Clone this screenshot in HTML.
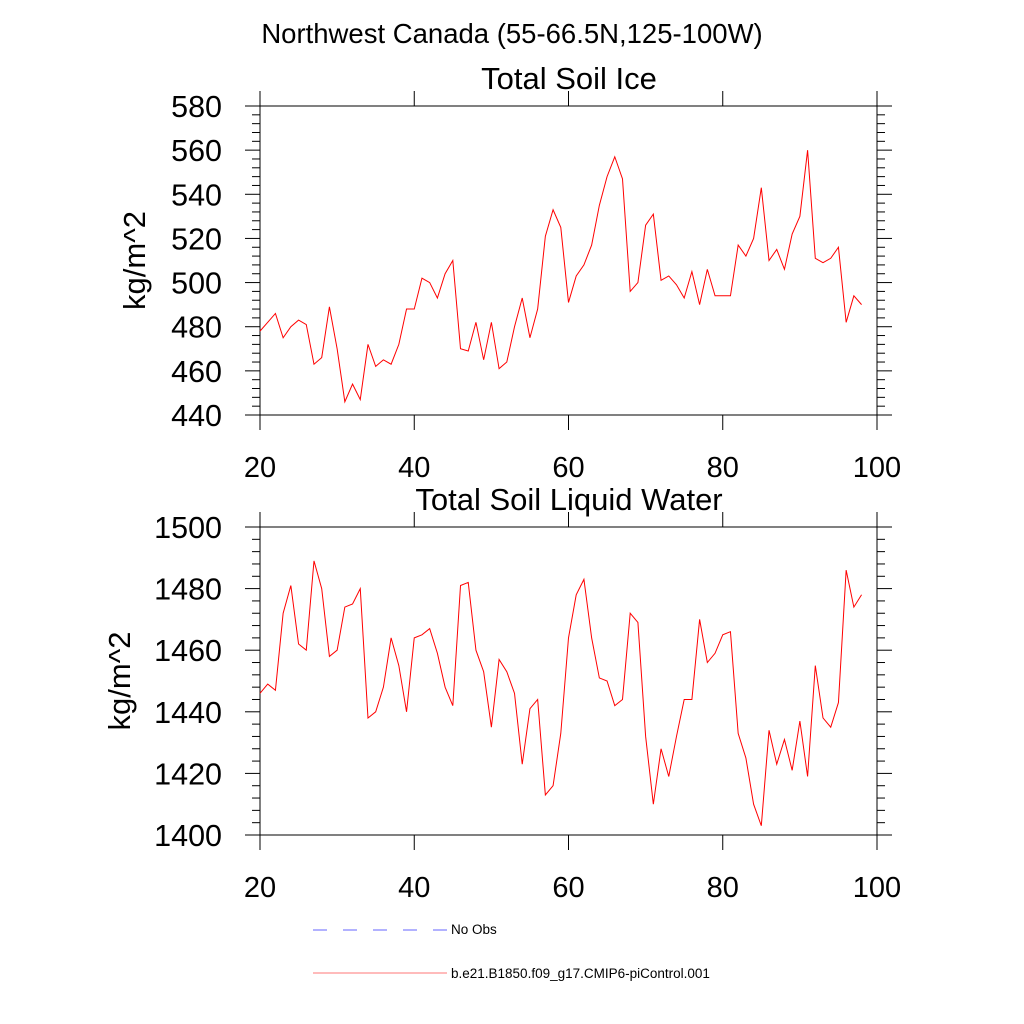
<!DOCTYPE html>
<html><head><meta charset="utf-8"><style>
html,body{margin:0;padding:0;background:#fff;}
svg{display:block;font-family:"Liberation Sans",sans-serif;}
</style></head><body>
<svg id="chart" width="1024" height="1024" viewBox="0 0 1024 1024" xmlns="http://www.w3.org/2000/svg">
<rect width="1024" height="1024" fill="#fff"/>
<text x="512" y="43" font-size="27.5" text-anchor="middle">Northwest Canada (55-66.5N,125-100W)</text>
<g id="p1"></g>
<g id="p2"></g>
<g>
<line x1="313" y1="930" x2="447" y2="930" stroke="#6666ff" stroke-width="1" stroke-dasharray="14,16"/>
<text x="451" y="934" font-size="13.5">No Obs</text>
<line x1="313" y1="973" x2="447" y2="973" stroke="#ff7777" stroke-width="1"/>
<text x="451" y="978" font-size="13.5">b.e21.B1850.f09_g17.CMIP6-piControl.001</text>
</g>
</svg>
<script>
const years = [];
for (let y = 20; y <= 98; y++) years.push(y);
const iceValues = [478,482,486,475,480,483,481,463,466,489,470,446,454,447,472,462,465,463,472,488,488,502,500,493,504,510,470,469,482,465,482,461,464,480,493,475,488,521,533,525,491,503,508,517,535,548,557,547,496,500,526,531,501,503,499,493,505,490,506,494,494,494,517,512,520,543,510,515,506,522,530,560,511,509,511,516,482,494,490];
const liqValues = [1446,1449,1447,1472,1481,1462,1460,1489,1480,1458,1460,1474,1475,1480,1438,1440,1448,1464,1455,1440,1464,1465,1467,1459,1448,1442,1481,1482,1460,1453,1435,1457,1453,1446,1423,1441,1444,1413,1416,1433,1464,1478,1483,1464,1451,1450,1442,1444,1472,1469,1432,1410,1428,1419,1432,1444,1444,1470,1456,1459,1465,1466,1433,1425,1410,1403,1434,1423,1431,1421,1437,1419,1455,1438,1435,1443,1486,1474,1478];
const xTicks = [20,40,60,80,100];
const iceYTicks = [440,460,480,500,520,540,560,580];
const liqYTicks = [1400,1420,1440,1460,1480,1500];

const NS = "http://www.w3.org/2000/svg";
function mk(parent, tag, attrs) {
  const e = document.createElementNS(NS, tag);
  for (const k in attrs) e.setAttribute(k, attrs[k]);
  parent.appendChild(e);
  return e;
}
function panel(g, cfg) {
  const L = 260, R = 877, T = cfg.top, B = cfg.bottom;
  const sx = v => L + (v - 20) / 80 * (R - L);
  const sy = v => B - (v - cfg.ymin) / (cfg.ymax - cfg.ymin) * (B - T);
  const frame = mk(g, "rect", {x: L, y: T, width: R - L, height: B - T, fill: "none", stroke: "#000", "stroke-width": 1});
  
  
  for (let v = cfg.ymin; v <= cfg.ymax + 1e-9; v += cfg.minor) {
    const major = Math.abs(((v - cfg.ymin) / cfg.major) - Math.round((v - cfg.ymin) / cfg.major)) < 1e-6;
    const len = major ? 15 : 8;
    const y = sy(v);
    const t1 = mk(g, "line", {x1: L - len, y1: y, x2: L, y2: y, stroke: "#000", "stroke-width": 1});
    
    
    const t2 = mk(g, "line", {x1: R, y1: y, x2: R + len, y2: y, stroke: "#000", "stroke-width": 1});
    
    
  }
  cfg.yTicks.forEach(v => {
    const t = mk(g, "text", {x: L - 38, y: sy(v) + 11, "font-size": 30.5, "text-anchor": "end"});
    t.textContent = v;
    
    
  });
  xTicks.forEach(v => {
    const x = sx(v);
    const a = mk(g, "line", {x1: x, y1: T - 15, x2: x, y2: T, stroke: "#000", "stroke-width": 1});
    
    
    const b = mk(g, "line", {x1: x, y1: B, x2: x, y2: B + 15, stroke: "#000", "stroke-width": 1});
    
    
    const t = mk(g, "text", {x: x, y: B + 62, "font-size": 29, "text-anchor": "middle"});
    t.textContent = v;
    
    
  });
  const title = mk(g, "text", {x: 569, y: T - 17, "font-size": 31, "text-anchor": "middle"});
  title.textContent = cfg.title;
  
  
  const cy = (T + B) / 2;
  const yt = mk(g, "text", {x: cfg.ytx, y: cy, "font-size": 31, "text-anchor": "middle", transform: "rotate(-90 " + cfg.ytx + " " + cy + ")"});
  yt.textContent = "kg/m^2";
  
  
  const pts = cfg.values.map((v, i) => sx(years[i]).toFixed(2) + "," + sy(v).toFixed(2)).join(" ");
  const line = mk(g, "polyline", {points: pts, fill: "none", stroke: "#ff0000", "stroke-width": 1});
  
  
}
panel(document.getElementById("p1"), {name: "soil-ice", title: "Total Soil Ice", top: 106, bottom: 415, ymin: 440, ymax: 580, major: 20, minor: 4, yTicks: iceYTicks, values: iceValues, ytx: 145});
panel(document.getElementById("p2"), {name: "soil-liquid", title: "Total Soil Liquid Water", top: 527, bottom: 835, ymin: 1400, ymax: 1500, major: 20, minor: 4, yTicks: liqYTicks, values: liqValues, ytx: 130});
</script>
</body></html>
